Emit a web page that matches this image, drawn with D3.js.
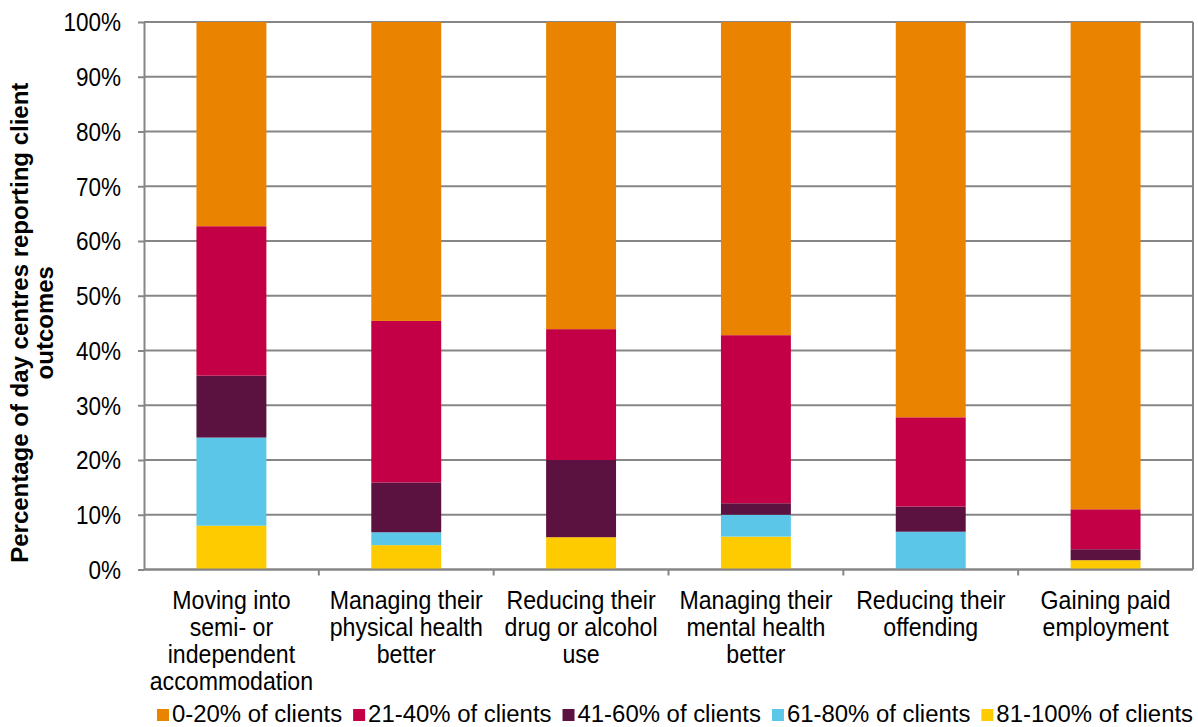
<!DOCTYPE html>
<html>
<head>
<meta charset="utf-8">
<script src="https://cdn.jsdelivr.net/npm/d3@7"></script>
<style>
  html, body { margin: 0; padding: 0; background: #fff; }
  svg { display: block; font-family: "Liberation Sans", Arial, sans-serif; }
</style>
</head>
<body>
<svg id="chart" width="1198" height="727"></svg>
<script>
// Outcome categories (each entry is the wrapped label lines)
const categories = [
  ["Moving into", "semi- or", "independent", "accommodation"],
  ["Managing their", "physical health", "better"],
  ["Reducing their", "drug or alcohol", "use"],
  ["Managing their", "mental health", "better"],
  ["Reducing their", "offending"],
  ["Gaining paid", "employment"]
];

// Share of day centres (%) in each client band, one value per category
const band0to20   = [37.3, 54.6, 56.1, 57.2, 72.2, 89.0];
const band21to40  = [27.3, 29.5, 23.9, 30.7, 16.3, 7.3];
const band41to60  = [11.3, 9.1, 14.1, 2.1, 4.6, 2.0];
const band61to80  = [16.1, 2.35, 0, 4.0, 6.9, 0];
const band81to100 = [8.0, 4.45, 5.9, 6.0, 0, 1.7];

const seriesNames = ["0-20% of clients", "21-40% of clients", "41-60% of clients", "61-80% of clients", "81-100% of clients"];
const seriesColors = ["#E98300", "#C30045", "#5C1240", "#5BC6E8", "#FECB00"];
const seriesValues = [band0to20, band21to40, band41to60, band61to80, band81to100];

const yTicks = [0, 10, 20, 30, 40, 50, 60, 70, 80, 90, 100];
const yTitle = ["Percentage of day centres reporting client", "outcomes"];

// ---- layout ----
const svg = d3.select("#chart");
const plotLeft = 144, plotRight = 1193, plotTop = 22, plotBottom = 569.5;
const gridColor = "#868686";

const x = d3.scaleBand()
  .domain(d3.range(categories.length))
  .range([plotLeft, plotRight])
  .paddingInner(0.6)
  .paddingOuter(0.3);

const y = d3.scaleLinear().domain([0, 100]).range([plotBottom, plotTop]);

// Stack from the bottom: 81-100% first, 0-20% on top
const rows = categories.map((c, i) => {
  const r = { idx: i };
  seriesNames.forEach((n, k) => { r[n] = seriesValues[k][i]; });
  return r;
});
const stackOrder = seriesNames.slice().reverse();
const stacked = d3.stack().keys(stackOrder)(rows);
const color = d3.scaleOrdinal().domain(seriesNames).range(seriesColors);

// Gridlines
svg.append("g")
  .selectAll("line")
  .data(yTicks)
  .join("line")
  .attr("x1", plotLeft).attr("x2", plotRight)
  .attr("y1", d => y(d)).attr("y2", d => y(d))
  .attr("stroke", gridColor).attr("stroke-width", 2);

// Right border of the plot area
svg.append("line")
  .attr("x1", plotRight).attr("x2", plotRight)
  .attr("y1", y(100)).attr("y2", y(0))
  .attr("stroke", gridColor).attr("stroke-width", 2);

// Bars
svg.append("g")
  .selectAll("g")
  .data(stacked)
  .join("g")
  .attr("fill", d => color(d.key))
  .selectAll("rect")
  .data(d => d)
  .join("rect")
  .attr("x", d => x(d.data.idx))
  .attr("width", x.bandwidth())
  .attr("y", d => y(d[1]))
  .attr("height", d => y(d[0]) - y(d[1]));

// Y axis
const yAxis = svg.append("g")
  .attr("transform", `translate(${plotLeft},0)`)
  .call(d3.axisLeft(y).tickValues(yTicks).tickFormat(d => d + "%").tickSize(6).tickSizeOuter(0));
yAxis.select(".domain").attr("stroke", gridColor).attr("stroke-width", 2);
yAxis.selectAll(".tick line").attr("stroke", gridColor).attr("stroke-width", 2);
yAxis.selectAll(".tick text")
  .attr("x", null).attr("dy", null)
  .attr("fill", "#000")
  .attr("font-size", 25)
  .attr("font-family", "\"Liberation Sans\", Arial, sans-serif")
  .attr("text-anchor", "end")
  .attr("transform", "translate(-23,8.8) scale(0.9,1)");

// Bottom axis line and category separators
svg.append("line")
  .attr("x1", plotLeft).attr("x2", plotRight)
  .attr("y1", plotBottom).attr("y2", plotBottom)
  .attr("stroke", gridColor).attr("stroke-width", 2);
const step = x.step();
svg.append("g")
  .selectAll("line")
  .data(d3.range(1, categories.length))
  .join("line")
  .attr("x1", d => plotLeft + d * step).attr("x2", d => plotLeft + d * step)
  .attr("y1", plotBottom).attr("y2", plotBottom + 6)
  .attr("stroke", gridColor).attr("stroke-width", 2);

// Category labels
const catG = svg.append("g")
  .selectAll("g")
  .data(categories)
  .join("g")
  .attr("transform", (d, i) => `translate(${x(i) + x.bandwidth() / 2},0)`);
catG.selectAll("text")
  .data(d => d)
  .join("text")
  .attr("text-anchor", "middle")
  .attr("font-size", 26)
  .attr("fill", "#000")
  .attr("transform", (d, j) => `translate(0,${609 + j * 27}) scale(0.89,1)`)
  .text(d => d);

// Y axis title
svg.append("g")
  .attr("transform", `translate(0,${(plotTop + plotBottom) / 2 + 27}) rotate(-90)`)
  .selectAll("text")
  .data(yTitle)
  .join("text")
  .attr("text-anchor", "middle")
  .attr("font-weight", "bold")
  .attr("font-size", 24)
  .attr("fill", "#000")
  .attr("y", (d, j) => 28 + j * 25)
  .text(d => d);

// Legend, laid out left to right
const legend = svg.append("g");
let cx = 157;
const legSx = 1.04;
seriesNames.forEach((name, k) => {
  legend.append("rect")
    .attr("x", cx).attr("y", 709)
    .attr("width", 12).attr("height", 12)
    .attr("fill", seriesColors[k]);
  const t = legend.append("text")
    .attr("font-size", 23)
    .attr("fill", "#000")
    .attr("transform", `translate(${cx + 15},722) scale(${legSx},1)`)
    .text(name);
  cx += 15 + t.node().getComputedTextLength() * legSx + 11;
});
</script>
</body>
</html>
